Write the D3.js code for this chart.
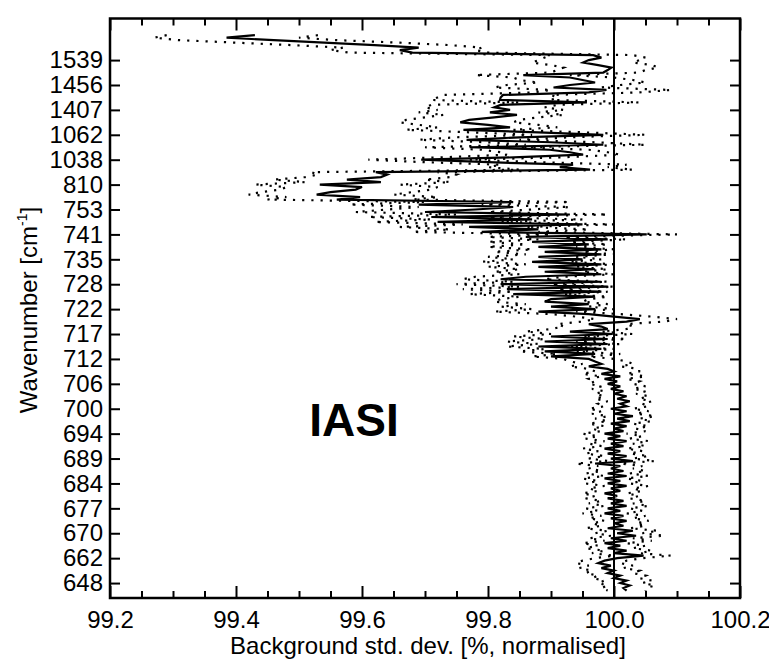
<!DOCTYPE html>
<html>
<head>
<meta charset="utf-8">
<script src="https://cdn.jsdelivr.net/npm/d3@7"></script>
<style>
body { margin: 0; background: #fff; }
svg { display: block; font-family: "Liberation Sans", Arial, Helvetica, sans-serif; }
</style>
</head>
<body>
<svg id="chart" width="769" height="660"></svg>
<script>
// wavenumber labels, bottom to top
var tickLabels = ["648","662","670","677","684","689","694","700","706","712","717",
  "722","728","735","741","753","810","1038","1062","1407","1456","1539"];
var firstTickChannel = 6, tickStep = 10;

// one value per channel, from channel 226 (top) down to channel 3
var topChannel = 226;
var solid = [
  99.43, 99.385, 99.46, 99.54, 99.62, 99.69, 99.66, 99.68,
  99.967, 99.98, 99.96, 99.951, 99.975, 99.996, 99.99, 99.983,
  99.856, 99.93, 99.95, 99.97, 99.93, 99.904, 99.988, 99.96,
  99.824, 99.82, 99.819, 99.957, 99.82, 99.81, 99.835, 99.803,
  99.846, 99.81, 99.77, 99.756, 99.80, 99.835, 99.761, 99.88,
  99.983, 99.85, 99.766, 99.90, 99.983, 99.771, 99.898, 99.93,
  99.951, 99.85, 99.694, 99.80, 99.935, 99.914, 99.962, 99.622,
  99.64, 99.63, 99.576, 99.63, 99.533, 99.60, 99.59, 99.55,
  99.528, 99.597, 99.56, 99.84, 99.69, 99.84, 99.78, 99.70,
  99.93, 99.71, 99.87, 99.72, 99.95, 99.77, 99.88, 99.79,
  100.052, 99.86, 99.99, 99.87, 99.96, 99.88, 99.98, 99.89,
  99.98, 99.88, 99.95, 99.87, 99.98, 99.88, 99.97, 99.89,
  99.98, 99.86, 99.82, 99.98, 99.82, 99.99, 99.83, 99.98,
  99.84, 99.97, 99.90, 99.89, 99.96, 99.90, 99.97, 99.88,
  99.96, 100.00, 100.041, 100.02, 99.96, 99.98, 99.99, 99.93,
  99.998, 99.90, 99.99, 99.89, 99.99, 99.88, 99.98, 99.89,
  99.97, 99.90, 99.96, 99.97, 99.98, 99.96, 99.99, 100.00,
  99.98, 100.01, 99.985, 100.005, 99.99, 100.01, 99.995, 100.015,
  100.00, 100.02, 100.005, 100.025, 100.01, 100.02, 99.995, 100.02,
  100.00, 100.03, 100.005, 100.025, 99.995, 100.02, 100.00, 100.015,
  99.985, 100.01, 99.99, 100.02, 99.995, 100.015, 99.985, 100.01,
  99.99, 100.02, 99.995, 100.03, 99.97, 100.01, 99.995, 100.015,
  99.99, 100.02, 99.985, 100.01, 99.99, 100.02, 99.995, 100.01,
  99.985, 100.005, 99.99, 100.015, 99.995, 100.02, 99.99, 100.01,
  99.985, 100.015, 99.995, 100.02, 100.00, 100.015, 99.99, 100.03,
  100.005, 100.035, 99.995, 100.02, 99.985, 100.01, 99.99, 100.02,
  100.00, 100.047, 100.005, 99.985, 99.975, 99.995, 99.98, 100.00,
  99.99, 100.01, 100.00, 100.02, 100.01, 100.025, 100.015, 100.02
];

// dotted lines on either side, same channels
var lower = [
  99.29, 99.27, 99.31, 99.40, 99.49, 99.57, 99.55, 99.58,
  99.90, 99.89, 99.88, 99.87, 99.90, 99.92, 99.91, 99.90,
  99.78, 99.84, 99.85, 99.88, 99.83, 99.81, 99.90, 99.87,
  99.73, 99.72, 99.71, 99.85, 99.71, 99.70, 99.72, 99.69,
  99.73, 99.70, 99.67, 99.66, 99.69, 99.72, 99.67, 99.77,
  99.87, 99.75, 99.69, 99.80, 99.86, 99.70, 99.79, 99.82,
  99.83, 99.73, 99.61, 99.70, 99.82, 99.80, 99.85, 99.52,
  99.53, 99.51, 99.46, 99.51, 99.43, 99.48, 99.47, 99.44,
  99.42, 99.48, 99.45, 99.70, 99.58, 99.69, 99.64, 99.59,
  99.75, 99.61, 99.71, 99.62, 99.76, 99.66, 99.74, 99.68,
  99.90, 99.80, 99.88, 99.80, 99.86, 99.80, 99.87, 99.81,
  99.86, 99.80, 99.84, 99.79, 99.86, 99.80, 99.85, 99.81,
  99.85, 99.78, 99.76, 99.84, 99.75, 99.85, 99.76, 99.84,
  99.77, 99.85, 99.82, 99.81, 99.86, 99.82, 99.87, 99.81,
  99.90, 99.94, 99.97, 99.95, 99.91, 99.92, 99.90, 99.86,
  99.90, 99.84, 99.89, 99.83, 99.88, 99.83, 99.89, 99.85,
  99.91, 99.87, 99.92, 99.93, 99.95, 99.93, 99.96, 99.97,
  99.95, 99.98, 99.96, 99.97, 99.96, 99.98, 99.965, 99.985,
  99.97, 99.985, 99.97, 99.99, 99.975, 99.985, 99.96, 99.98,
  99.965, 99.99, 99.97, 99.99, 99.96, 99.985, 99.965, 99.98,
  99.95, 99.975, 99.955, 99.985, 99.96, 99.98, 99.95, 99.975,
  99.955, 99.985, 99.96, 99.99, 99.94, 99.975, 99.96, 99.98,
  99.955, 99.985, 99.95, 99.975, 99.955, 99.985, 99.96, 99.975,
  99.95, 99.97, 99.955, 99.98, 99.96, 99.985, 99.955, 99.975,
  99.95, 99.98, 99.96, 99.985, 99.965, 99.98, 99.955, 99.99,
  99.97, 99.995, 99.96, 99.985, 99.95, 99.975, 99.955, 99.985,
  99.965, 100.00, 99.97, 99.95, 99.94, 99.96, 99.945, 99.965,
  99.955, 99.975, 99.965, 99.985, 99.975, 99.99, 99.98, 99.99
];
var upper = [
  99.53, 99.50, 99.56, 99.66, 99.74, 99.79, 99.78, 99.80,
  100.03, 100.05, 100.04, 100.03, 100.06, 100.07, 100.05, 100.04,
  99.93, 100.00, 100.03, 100.05, 100.01, 99.98, 100.09, 100.04,
  99.90, 99.91, 99.90, 100.04, 99.91, 99.89, 99.92, 99.88,
  99.92, 99.88, 99.85, 99.84, 99.88, 99.91, 99.84, 99.95,
  100.05, 99.93, 99.85, 99.97, 100.05, 99.85, 99.96, 99.99,
  100.01, 99.92, 99.77, 99.88, 100.02, 99.99, 100.03, 99.72,
  99.75, 99.74, 99.70, 99.74, 99.66, 99.72, 99.71, 99.68,
  99.65, 99.72, 99.68, 99.93, 99.79, 99.93, 99.87, 99.80,
  99.99, 99.80, 99.95, 99.82, 100.00, 99.86, 99.96, 99.88,
  100.10, 99.92, 100.02, 99.93, 99.99, 99.94, 100.00, 99.95,
  100.00, 99.94, 99.98, 99.93, 100.00, 99.94, 99.99, 99.95,
  100.00, 99.92, 99.89, 99.99, 99.90, 100.00, 99.91, 99.99,
  99.92, 99.99, 99.96, 99.95, 99.99, 99.96, 100.00, 99.94,
  100.01, 100.06, 100.10, 100.08, 100.02, 100.03, 100.02, 99.98,
  100.03, 99.95, 100.02, 99.94, 100.01, 99.93, 100.00, 99.94,
  100.01, 99.96, 100.00, 100.02, 100.03, 100.01, 100.04, 100.04,
  100.02, 100.05, 100.02, 100.04, 100.03, 100.05, 100.03, 100.05,
  100.035, 100.055, 100.04, 100.06, 100.045, 100.055, 100.03, 100.055,
  100.035, 100.065, 100.04, 100.06, 100.03, 100.055, 100.035, 100.05,
  100.02, 100.045, 100.025, 100.055, 100.03, 100.05, 100.02, 100.045,
  100.025, 100.055, 100.03, 100.065, 100.01, 100.045, 100.03, 100.05,
  100.025, 100.055, 100.02, 100.045, 100.025, 100.055, 100.03, 100.045,
  100.02, 100.04, 100.025, 100.05, 100.03, 100.055, 100.025, 100.045,
  100.02, 100.05, 100.03, 100.055, 100.035, 100.05, 100.025, 100.07,
  100.045, 100.08, 100.03, 100.06, 100.02, 100.05, 100.03, 100.06,
  100.04, 100.09, 100.045, 100.02, 100.01, 100.03, 100.015, 100.04,
  100.03, 100.05, 100.04, 100.06, 100.045, 100.065, 100.05, 100.05
];

var plot = {left: 110, right: 740, top: 18.5, bottom: 598};

var svg = d3.select("#chart");

var xScale = d3.scaleLinear().domain([99.2, 100.2]).range([plot.left, plot.right]);
var yScale = d3.scaleLinear().domain([0, 232.7]).range([plot.bottom, plot.top]);

var tickChannels = tickLabels.map(function(d, i){ return firstTickChannel + i * tickStep; });
var majorX = [99.2, 99.4, 99.6, 99.8, 100.0, 100.2];
var minorX = [99.25, 99.3, 99.35, 99.45, 99.5, 99.55, 99.65, 99.7, 99.75,
  99.85, 99.9, 99.95, 100.05, 100.1, 100.15];

function toPoints(values){
  return values.map(function(v, i){ return {ch: topChannel - i, v: v}; });
}

var line = d3.line()
  .x(function(d){ return xScale(d.v); })
  .y(function(d){ return yScale(d.ch); });

// dotted side lines
[lower, upper].forEach(function(values){
  svg.append("path")
    .datum(toPoints(values))
    .attr("d", line)
    .attr("fill", "none")
    .attr("stroke", "#000")
    .attr("stroke-width", 2.2)
    .attr("stroke-dasharray", "2.2,7");
});

// reference line at 100
svg.append("line")
  .attr("x1", xScale(100)).attr("x2", xScale(100))
  .attr("y1", plot.top).attr("y2", plot.bottom)
  .attr("stroke", "#000").attr("stroke-width", 2);

svg.append("path")
  .datum(toPoints(solid))
  .attr("d", line)
  .attr("fill", "none")
  .attr("stroke", "#000")
  .attr("stroke-width", 2.2);

// axes
function styleAxis(g){
  g.select(".domain").remove();
  g.selectAll(".tick line").attr("stroke", "#000").attr("stroke-width", 2);
  g.selectAll(".tick text").attr("fill", "#000").style("font-size", "24px")
    .style("font-family", "'Liberation Sans', Arial, Helvetica, sans-serif");
}

svg.append("g")
  .attr("transform", "translate(0," + plot.bottom + ")")
  .call(d3.axisBottom(xScale).tickValues(majorX).tickSize(-12).tickPadding(13)
    .tickFormat(d3.format(".1f")))
  .call(styleAxis);
svg.append("g")
  .attr("transform", "translate(0," + plot.bottom + ")")
  .call(d3.axisBottom(xScale).tickValues(minorX).tickSize(-7).tickFormat(""))
  .call(styleAxis);
svg.append("g")
  .attr("transform", "translate(0," + plot.top + ")")
  .call(d3.axisTop(xScale).tickValues(majorX).tickSize(-12).tickFormat(""))
  .call(styleAxis);
svg.append("g")
  .attr("transform", "translate(0," + plot.top + ")")
  .call(d3.axisTop(xScale).tickValues(minorX).tickSize(-7).tickFormat(""))
  .call(styleAxis);

svg.append("g")
  .attr("transform", "translate(" + plot.left + ",0)")
  .call(d3.axisLeft(yScale).tickValues(tickChannels).tickSize(-10).tickPadding(7)
    .tickFormat(function(d, i){ return tickLabels[i]; }))
  .call(styleAxis);
svg.append("g")
  .attr("transform", "translate(" + plot.right + ",0)")
  .call(d3.axisRight(yScale).tickValues(tickChannels).tickSize(-10).tickFormat(""))
  .call(styleAxis);

// frame
svg.append("rect")
  .attr("x", plot.left).attr("y", plot.top)
  .attr("width", plot.right - plot.left).attr("height", plot.bottom - plot.top)
  .attr("fill", "none").attr("stroke", "#000").attr("stroke-width", 2.5);

// titles
svg.append("text")
  .attr("x", 428).attr("y", 654)
  .attr("text-anchor", "middle")
  .style("font-size", "24px")
  .text("Background std. dev. [%, normalised]");

var yt = svg.append("text")
  .attr("transform", "translate(37,310) rotate(-90)")
  .attr("text-anchor", "middle")
  .style("font-size", "24px");
yt.append("tspan").text("Wavenumber [cm");
yt.append("tspan").attr("dy", -10).style("font-size", "14px").text("-1");
yt.append("tspan").attr("dy", 10).text("]");

svg.append("text")
  .attr("x", 354).attr("y", 436)
  .attr("text-anchor", "middle")
  .style("font-size", "46px")
  .style("font-weight", "bold")
  .text("IASI");
</script>
</body>
</html>
